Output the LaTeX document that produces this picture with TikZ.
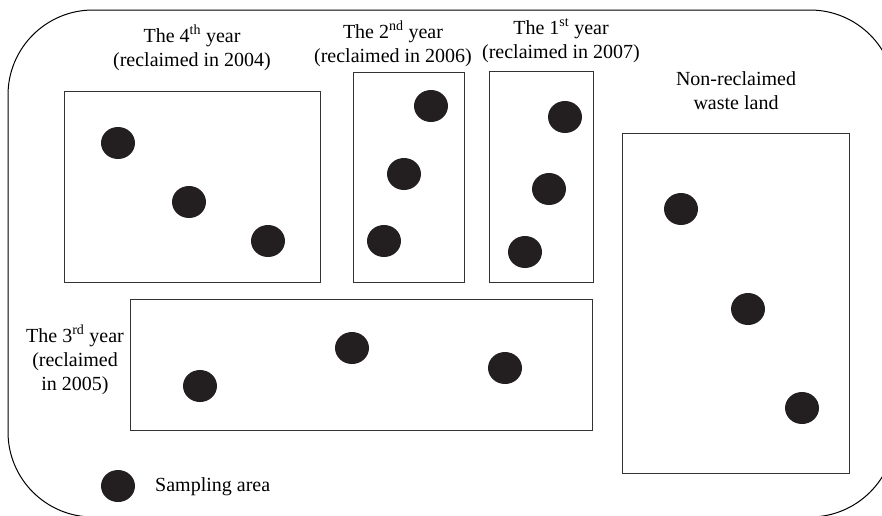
\documentclass[tikz,border=0pt]{standalone}
\usepackage{fontspec}
\setmainfont{Liberation Serif}
\usetikzlibrary{shapes.geometric}
\definecolor{dotink}{HTML}{231F20}
\definecolor{edgeink}{HTML}{333333}
\begin{document}
\begin{tikzpicture}[x=1pt,y=-1pt,
  field/.style={draw=edgeink,line width=1.4pt,inner sep=0pt,anchor=north west},
  sample/.style={ellipse,fill=dotink,draw=none,minimum width=34pt,minimum height=32pt,inner sep=0pt},
  caption/.style={font=\fontsize{20}{24}\selectfont,align=center,inner sep=0pt,anchor=base},
  frame/.style={draw=black,line width=1pt,rounded corners=85pt}]
  \useasboundingbox (0,0) rectangle (882,515);

  % outer boundary of the study site
  \begin{scope}
    \clip (0,0) rectangle (882,515);
    \draw[frame] (8,10) rectangle (895,517);
  \end{scope}

  % plots
  \node[field,minimum width=256pt,minimum height=191pt] (y4) at (64,91) {};
  \node[field,minimum width=111pt,minimum height=210pt] (y2) at (353,72) {};
  \node[field,minimum width=104pt,minimum height=211pt] (y1) at (489,71) {};
  \node[field,minimum width=227pt,minimum height=340pt] (y0) at (622,133) {};
  \node[field,minimum width=462pt,minimum height=131pt] (y3) at (130,299) {};

  % plot labels (anchored at the baseline of their last line)
  \node[caption] (l4) at (192,66) {The 4\textsuperscript{th} year\\(reclaimed in 2004)};
  \node[caption] (l2) at (393,62) {The 2\textsuperscript{nd} year\\(reclaimed in 2006)};
  \node[caption] (l1) at (561,58) {The 1\textsuperscript{st} year\\(reclaimed in 2007)};
  \node[caption] (l0) at (736,109) {Non-reclaimed\\waste land};
  \node[caption] (l3) at (75,390) {The 3\textsuperscript{rd} year\\(reclaimed\\in 2005)};

  % sampling areas
  \node[sample] (s4a) at (118,143) {};
  \node[sample] (s4b) at (189,202) {};
  \node[sample] (s4c) at (268,241) {};
  \node[sample] (s2a) at (431,106) {};
  \node[sample] (s2b) at (404,174) {};
  \node[sample] (s2c) at (384,241) {};
  \node[sample] (s1a) at (565,117) {};
  \node[sample] (s1b) at (549,189) {};
  \node[sample] (s1c) at (525,252) {};
  \node[sample] (s0a) at (681,209) {};
  \node[sample] (s0b) at (748,309) {};
  \node[sample] (s0c) at (802,408) {};
  \node[sample] (s3a) at (200,386) {};
  \node[sample] (s3b) at (352,348) {};
  \node[sample] (s3c) at (505,368) {};

  % legend
  \node[sample] (key) at (118,486) {};
  \node[caption,anchor=base west] (keytext) at (155,491) {Sampling area};
\end{tikzpicture}
\end{document}
